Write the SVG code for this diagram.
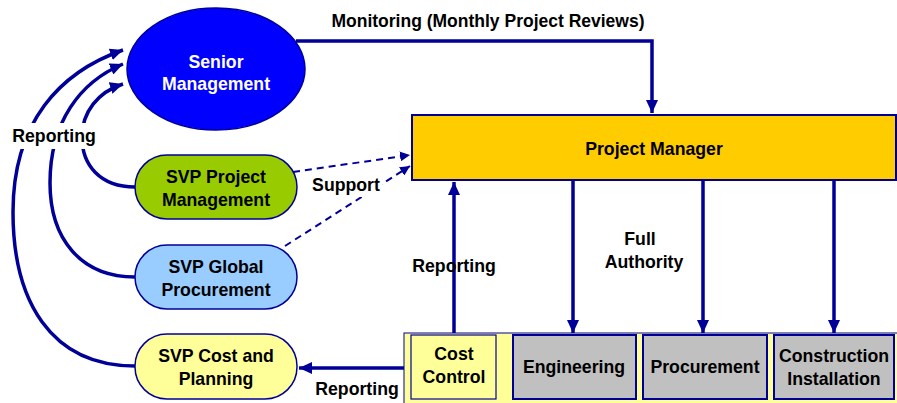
<svg xmlns="http://www.w3.org/2000/svg" width="897" height="403" viewBox="0 0 897 403">
<defs>
<style>
.t{font-family:"Liberation Sans",Arial,sans-serif;font-weight:bold;font-size:17.7px;fill:#000;text-anchor:middle}
.w{fill:#fff}
.ln{fill:none;stroke:#000099;stroke-width:3.5}
.ds{fill:none;stroke:#000099;stroke-width:2;stroke-dasharray:7,5}
.box{stroke:#000099;stroke-width:2}
</style>
<marker id="ah" markerUnits="userSpaceOnUse" markerWidth="14" markerHeight="12" refX="13" refY="6" orient="auto">
<path d="M0,0 L13,6 L0,12 z" fill="#000099"/>
</marker>
<marker id="ahs" markerUnits="userSpaceOnUse" markerWidth="11" markerHeight="10" refX="10" refY="5" orient="auto">
<path d="M0,0 L10,5 L0,10 z" fill="#000099"/>
</marker>
</defs>
<rect width="897" height="403" fill="#fff"/>

<g id="connectors">
<path class="ln" d="M296,41 H652 V113" marker-end="url(#ah)"/>
<path class="ln" d="M135,187 C100,187 82,165 82,137 C82,112 98,92 123,84" marker-end="url(#ah)"/>
<path class="ln" d="M135,277 C80,277 50,238 50,183 C50,122 80,82 123,64" marker-end="url(#ah)"/>
<path class="ln" d="M135,366 C50,366 13,300 13,212 C13,122 60,72 123,50" marker-end="url(#ah)"/>
<path class="ds" d="M293,172 L410,155" marker-end="url(#ahs)"/>
<path class="ds" d="M285,246 L410,166" marker-end="url(#ahs)"/>
<path class="ln" d="M454,333 V182" marker-end="url(#ah)"/>
<path class="ln" d="M573,181 V333" marker-end="url(#ah)"/>
<path class="ln" d="M703,181 V333" marker-end="url(#ah)"/>
<path class="ln" d="M834,181 V333" marker-end="url(#ah)"/>
<path class="ln" d="M404,368 H299" marker-end="url(#ah)"/>
<text class="t" x="488" y="27" style="font-size:17.5px">Monitoring (Monthly Project Reviews)</text>
<rect x="9" y="123" width="90" height="26" fill="#fff"/>
<text class="t" x="54" y="142">Reporting</text>
<rect x="310" y="173" width="72" height="24" fill="#fff"/>
<text class="t" x="346" y="191">Support</text>
<text class="t" x="454" y="272">Reporting</text>
<text class="t" x="640" y="245">Full</text>
<text class="t" x="644" y="268">Authority</text>
<text class="t" x="357" y="395">Reporting</text>
</g>

<g id="senior-management">
<ellipse cx="216" cy="69" rx="89" ry="61" fill="#0000FF" stroke="#000099" stroke-width="1.5"/>
<text class="t w" x="216" y="68">Senior</text>
<text class="t w" x="216" y="90">Management</text>
</g>

<g id="svp-project-management">
<rect x="135" y="155" width="162" height="64" rx="32" fill="#99CC00" stroke="#000099" stroke-width="1.5"/>
<text class="t" x="216" y="183">SVP Project</text>
<text class="t" x="216" y="206">Management</text>
</g>

<g id="svp-global-procurement">
<rect x="135" y="245" width="162" height="64" rx="32" fill="#99CCFF" stroke="#000099" stroke-width="1.5"/>
<text class="t" x="216" y="273">SVP Global</text>
<text class="t" x="216" y="296">Procurement</text>
</g>

<g id="svp-cost-planning">
<rect x="135" y="334" width="162" height="65" rx="32" fill="#FFFF99" stroke="#000099" stroke-width="1.5"/>
<text class="t" x="216" y="362">SVP Cost and</text>
<text class="t" x="216" y="385">Planning</text>
</g>

<g id="project-manager">
<rect x="412" y="115" width="484" height="65" fill="#FFCC00" class="box"/>
<text class="t" x="654" y="155">Project Manager</text>
</g>

<g id="departments">
<rect x="404" y="333" width="495" height="75" fill="#FFFF99" stroke="#000099" stroke-width="1"/>
</g>

<g id="cost-control">
<rect x="411" y="335" width="85" height="64" fill="#FFFF99" stroke="#000099" stroke-width="1.2"/>
<text class="t" x="454" y="360">Cost</text>
<text class="t" x="454" y="383">Control</text>
</g>

<g id="engineering">
<rect x="513" y="335" width="123" height="64" fill="#C0C0C0" class="box"/>
<text class="t" x="574" y="373">Engineering</text>
</g>

<g id="procurement">
<rect x="643" y="335" width="124" height="64" fill="#C0C0C0" class="box"/>
<text class="t" x="705" y="373">Procurement</text>
</g>

<g id="construction-installation">
<rect x="774" y="335" width="120" height="64" fill="#C0C0C0" class="box"/>
<text class="t" x="834" y="362">Construction</text>
<text class="t" x="834" y="385">Installation</text>
</g>
</svg>
